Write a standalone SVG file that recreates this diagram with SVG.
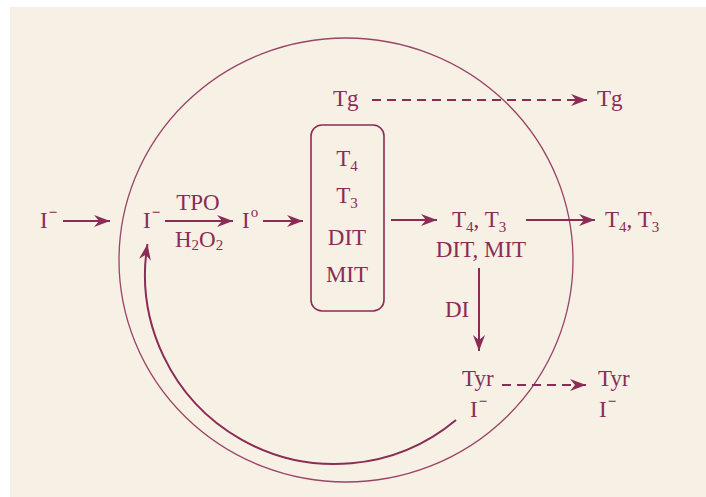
<svg xmlns="http://www.w3.org/2000/svg" width="706" height="497" viewBox="0 0 706 497">
<defs>
<marker id="ah" markerUnits="userSpaceOnUse" markerWidth="18" markerHeight="14" refX="16" refY="6" orient="auto">
<path d="M0,0 L16,6 L0,12 L5,6 z" fill="#8a2c55"/>
</marker>
<style>
text{font-family:"Liberation Serif","Times New Roman",serif;font-size:23px;fill:#8a2c55}
.c{text-anchor:middle}
.sub{font-size:15px}
.sup{font-size:15px;font-weight:bold}
.ln{stroke:#8a2c55;stroke-width:2;fill:none}
.ds{stroke:#8a2c55;stroke-width:2;fill:none;stroke-dasharray:9 6}
</style>
</defs>
<rect x="0" y="0" width="706" height="497" fill="#ffffff"/>
<rect x="10" y="7" width="696" height="490" fill="#f7f0e4"/>
<g id="cell"><ellipse cx="346" cy="260" rx="227" ry="222" fill="none" stroke="#9a4468" stroke-width="1.3"/></g>
<g id="connectors">
<line class="ln" x1="63" y1="221" x2="110" y2="221" marker-end="url(#ah)"/>
<line class="ln" x1="165" y1="221" x2="233" y2="221" marker-end="url(#ah)"/>
<line class="ln" x1="263" y1="221" x2="303" y2="221" marker-end="url(#ah)"/>
<line class="ln" x1="391" y1="220" x2="437" y2="220" marker-end="url(#ah)"/>
<line class="ln" x1="526" y1="220" x2="595" y2="220" marker-end="url(#ah)"/>
<line class="ds" x1="372" y1="100" x2="587" y2="100" marker-end="url(#ah)"/>
<line class="ln" x1="479" y1="268" x2="479" y2="351" marker-end="url(#ah)"/>
<line class="ds" x1="502" y1="385" x2="586" y2="385" marker-end="url(#ah)"/>
<path class="ln" d="M456,420 A189.5,189.5 0 0 1 147.5,244" marker-end="url(#ah)"/>
</g>
<g id="iodide-out"><text x="40" y="228">I<tspan class="sup" dx="1" dy="-11">−</tspan></text></g>
<g id="iodide-in"><text x="143" y="228">I<tspan class="sup" dx="1" dy="-11">−</tspan></text></g>
<g id="tpo"><text class="c" x="198" y="210">TPO</text><text class="c" x="199" y="247">H<tspan class="sub" dy="3">2</tspan><tspan dy="-3">O</tspan><tspan class="sub" dy="3">2</tspan></text></g>
<g id="iodine"><text x="242" y="228">I<tspan class="sub" dx="1" dy="-11">o</tspan></text></g>
<g id="tg-box">
<rect x="311" y="125" width="73" height="186" rx="11" fill="none" stroke="#8a2c55" stroke-width="1.6"/>
<text class="c" x="347" y="166">T<tspan class="sub" dy="5">4</tspan></text>
<text class="c" x="347" y="203">T<tspan class="sub" dy="5">3</tspan></text>
<text class="c" x="347" y="245">DIT</text>
<text class="c" x="347" y="282">MIT</text>
</g>
<g id="tg-in"><text x="333" y="106">Tg</text></g>
<g id="tg-out"><text x="597" y="106">Tg</text></g>
<g id="hormones-in"><text x="452" y="227">T<tspan class="sub" dy="5">4</tspan><tspan dy="-5">, T</tspan><tspan class="sub" dy="5">3</tspan></text><text class="c" x="481" y="257">DIT, MIT</text></g>
<g id="hormones-out"><text x="605" y="227">T<tspan class="sub" dy="5">4</tspan><tspan dy="-5">, T</tspan><tspan class="sub" dy="5">3</tspan></text></g>
<g id="di"><text x="445" y="317">DI</text></g>
<g id="tyr-in"><text x="462" y="386">Tyr</text><text x="470" y="417">I<tspan class="sup" dx="1" dy="-11">−</tspan></text></g>
<g id="tyr-out"><text x="598" y="386">Tyr</text><text x="599" y="417">I<tspan class="sup" dx="1" dy="-11">−</tspan></text></g>
</svg>
